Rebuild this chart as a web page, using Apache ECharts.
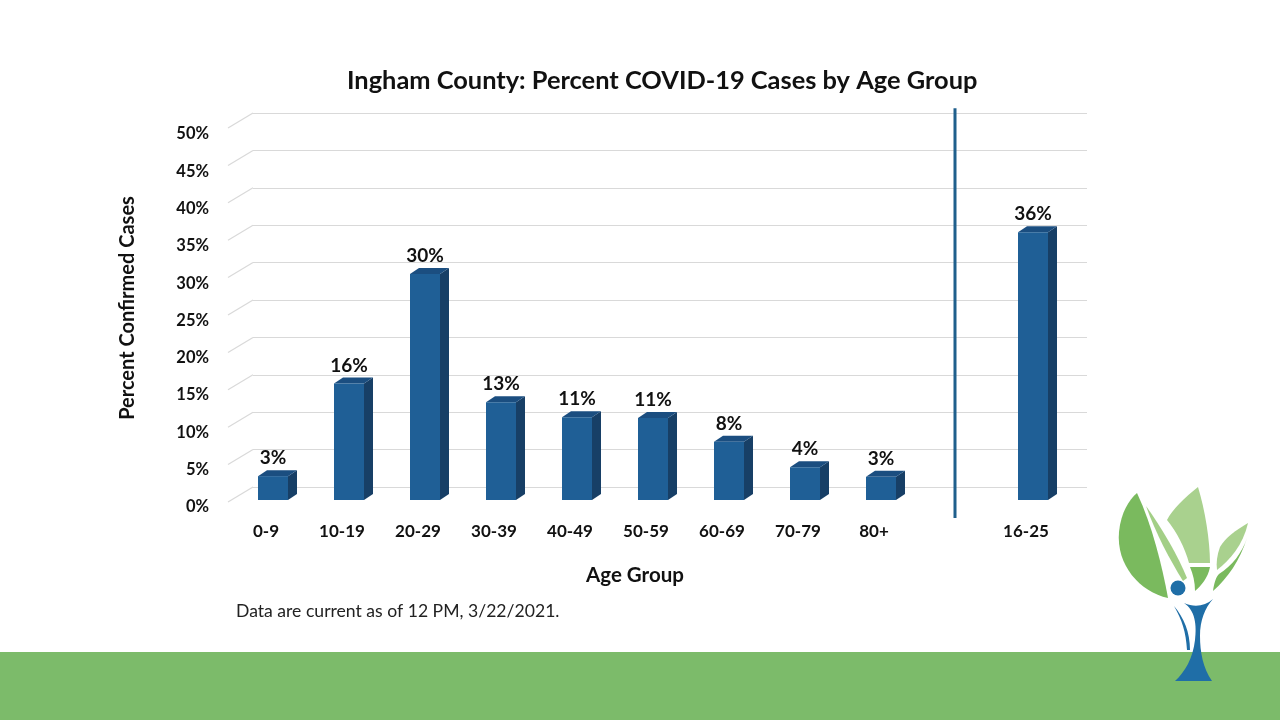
<!DOCTYPE html>
<html><head><meta charset="utf-8">
<script src="https://cdn.jsdelivr.net/npm/echarts@6/dist/echarts.min.js"></script>
<style>html,body{margin:0;padding:0;background:#fff}#c{width:1280px;height:720px}</style>
</head><body><div id="c"></div>
<script>
const categories = ['0-9','10-19','20-29','30-39','40-49','50-59','60-69','70-79','80+','','16-25'];
const percentValues = [3.2, 15.6, 30.3, 13.1, 11.1, 11.0, 7.8, 4.4, 3.1, null, 35.9];
const valueLabels = ['3%','16%','30%','13%','11%','11%','8%','4%','3%','','36%'];
const yTicks = [0,5,10,15,20,25,30,35,40,45,50];

const FRONT = '#1f5f96', SIDE = '#173f66', TOPC = '#1b4e80';
const FONT = 'Lato';

const chart = echarts.init(document.getElementById('c'));

const barData = [];
categories.forEach((c, i) => { if (percentValues[i] != null) barData.push([i, percentValues[i], valueLabels[i]]); });

function logoItem() {
  const P = (d, fill) => ({ type: 'path', shape: { pathData: d }, style: { fill: fill } });
  const DARK = '#7aba5e', LIGHT = '#a9d18e', BLUE = '#1f6ea7';
  return { type: 'group', children: [
    P('M1137,493 C1152,525 1162,565 1168,598 C1140,592 1116,565 1119,532 C1121,512 1129,500 1137,493 Z', DARK),
    P('M1146,506 C1162,528 1178,556 1187,578 L1183,581 C1170,560 1156,534 1146,506 Z', '#a3cf86'),
    P('M1198,487 C1185,497 1172,510 1167,520 C1177,532 1185,548 1189,563 L1210,563 C1210,540 1205,510 1198,487 Z', LIGHT),
    P('M1190,567 L1210,567 C1208,578 1201,586 1195,591 C1195,582 1193,574 1190,567 Z', DARK),
    P('M1248,523 C1236,530 1225,538 1220,547 C1217,555 1216,563 1217,570 C1230,560 1243,545 1248,523 Z', LIGHT),
    P('M1247,538 C1240,560 1228,578 1213,591 C1214,583 1216,577 1219,574 C1232,566 1242,553 1247,538 Z', DARK),
    { type: 'circle', shape: { cx: 1178, cy: 588, r: 7.5 }, style: { fill: BLUE } },
    P('M1184,603 C1195,610 1197,625 1195,640 C1193,658 1185,672 1175,681 L1212,681 C1203,668 1200,652 1200,636 C1200,620 1205,608 1213,599 C1205,606 1195,608 1184,603 Z', BLUE),
    P('M1174,606 C1184,618 1190,632 1190,650 L1187,650 C1186,632 1182,620 1174,606 Z', BLUE)
  ] };
}

const option = {
  backgroundColor: '#ffffff',
  animation: false,
  title: {
    text: 'Ingham County: Percent COVID-19 Cases by Age Group',
    left: 347, top: 68, padding: 0,
    textStyle: { fontFamily: FONT, fontWeight: 'bold', fontSize: 25.4, color: '#111' }
  },
  grid: [
    { left: 235, width: 836, top: 127, height: 373 },
    { left: 253, width: 834, top: 113, height: 374 }
  ],
  xAxis: [
    { gridIndex: 0, type: 'category', data: categories, boundaryGap: true,
      axisLine: { show: false }, axisTick: { show: false },
      axisLabel: { margin: 23, color: '#111', fontFamily: FONT, fontWeight: 'bold', fontSize: 17, padding: [0, 14, 0, 0] } },
    { gridIndex: 1, type: 'value', min: 0, max: 1, show: false }
  ],
  yAxis: [
    { gridIndex: 0, type: 'value', min: 0, max: 50, interval: 5,
      axisLine: { show: false }, axisTick: { show: false }, splitLine: { show: false },
      axisLabel: { margin: 26, formatter: '{value}%', color: '#111', fontFamily: FONT, fontWeight: 'bold', fontSize: 16.5,
        verticalAlign: 'top', lineHeight: 14 } },
    { gridIndex: 1, type: 'value', min: 0, max: 50, interval: 5,
      axisLine: { show: false }, axisTick: { show: false }, axisLabel: { show: false },
      splitLine: { show: true, lineStyle: { color: '#d9d9d9', width: 1.2 } } }
  ],
  series: [
    {
      type: 'custom', xAxisIndex: 1, yAxisIndex: 1, silent: true,
      data: yTicks.map(t => [0, t]),
      renderItem: function (params, api) {
        const p = api.coord([0, api.value(1)]);
        return { type: 'line', shape: { x1: p[0] - 25, y1: p[1] + 15, x2: p[0], y2: p[1] },
          style: { stroke: '#d9d9d9', lineWidth: 1.2 } };
      }
    },
    {
      type: 'custom', xAxisIndex: 0, yAxisIndex: 0, silent: true,
      data: barData,
      renderItem: function (params, api) {
        const xi = api.value(0), v = api.value(1);
        const top = api.coord([xi, v]);
        const base = api.coord([xi, 0]);
        const w = 30, dx = 9, dy = 6;
        const x0 = top[0] - w / 2, x1 = top[0] + w / 2;
        return { type: 'group', children: [
          { type: 'polygon', shape: { points: [[x1, top[1]], [x1 + dx, top[1] - dy], [x1 + dx, base[1] - dy], [x1, base[1]]] }, style: { fill: SIDE } },
          { type: 'polygon', shape: { points: [[x0, top[1]], [x0 + dx, top[1] - dy], [x1 + dx, top[1] - dy], [x1, top[1]]] }, style: { fill: TOPC } },
          { type: 'rect', shape: { x: x0, y: top[1], width: w, height: base[1] - top[1] }, style: { fill: FRONT } },
          { type: 'text', style: { text: barData[params.dataIndex][2], x: top[0], y: top[1] - 18, align: 'center', verticalAlign: 'middle',
              font: 'bold 19px ' + FONT, fill: '#111' } }
        ] };
      }
    },
    {
      type: 'custom', xAxisIndex: 0, yAxisIndex: 0, silent: true,
      data: [[9]],
      renderItem: function (params, api) {
        const a = api.coord([api.value(0), 52.5]);
        const b = api.coord([api.value(0), -2.4]);
        return { type: 'line', shape: { x1: a[0] - 2, y1: a[1], x2: b[0] - 2, y2: b[1] }, style: { stroke: '#1f5f8c', lineWidth: 3 } };
      }
    },
    {
      type: 'custom', coordinateSystem: 'none', silent: true, z: 5,
      data: [[0]],
      renderItem: function () { return logoItem(); }
    }
  ],
  graphic: [
    { type: 'rect', shape: { x: 0, y: 652, width: 1280, height: 68 }, style: { fill: '#7cbb6a' }, z: 0 },
    { type: 'text', x: 586, y: 565, style: { text: 'Age Group', font: 'bold 20.5px ' + FONT, fill: '#111' } },
    { type: 'text', x: 128, y: 308, rotation: Math.PI / 2, style: { text: 'Percent Confirmed Cases', font: 'bold 20px ' + FONT, fill: '#111', align: 'center', verticalAlign: 'middle' } },
    { type: 'text', x: 236, y: 602, style: { text: 'Data are current as of 12 PM, 3/22/2021.', font: '17.6px ' + FONT, fill: '#222' } }
  ]
};
chart.setOption(option);
</script>
</body></html>
